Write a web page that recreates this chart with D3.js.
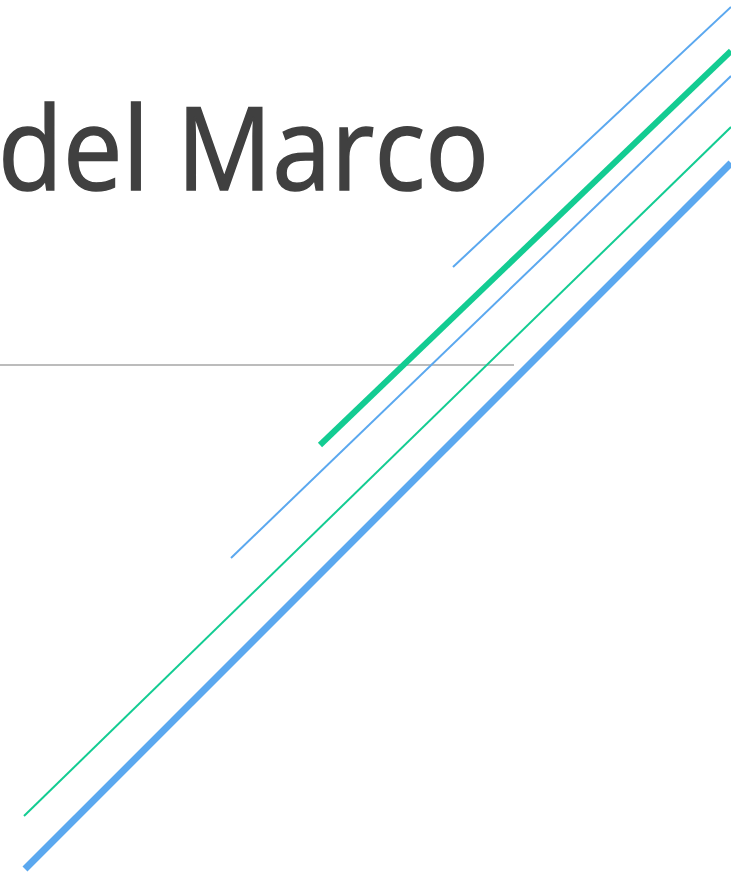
<!DOCTYPE html>
<html>
<head>
<meta charset="utf-8">
<script src="https://cdn.jsdelivr.net/npm/d3@7"></script>
<style>
  html, body { margin: 0; padding: 0; background: white; overflow: hidden; }
</style>
</head>
<body>
<div class="chart"></div>
<script>
// decorative strokes: start / end points in page units, colour key, weight key
var lineNames = ['blue1', 'green1', 'blue2', 'green2', 'blue3'];
var x1s = [453, 320, 231, 24, 25];
var y1s = [267, 445, 558, 816, 869];
var x2s = [731, 731, 731, 731, 731];
var y2s = [7, 51, 76, 127, 163];
var colorKeys = ['blue', 'green', 'blue', 'green', 'blue'];
var weights = [2, 6, 2, 2, 7];

var titleText = 'del Marco';
var ruleLine = [0, 514];   // x extent of the grey rule
var ruleY = 365;

const width = 731, height = 876;

const x = d3.scaleLinear().domain([0, 731]).range([0, width]);
const y = d3.scaleLinear().domain([0, 876]).range([0, height]);
const color = d3.scaleOrdinal().domain(['blue', 'green']).range(['#5ba8ef', '#13cc92']);

const lines = lineNames.map((n, i) => ({
  name: n, x1: x1s[i], y1: y1s[i], x2: x2s[i], y2: y2s[i], c: colorKeys[i], w: weights[i]
}));

const svg = d3.select('.chart')
  .append('svg')
    .attr('width', width)
    .attr('height', height)
    .style('background', 'white');

// title is cut at the left edge in the original slide too
svg.append('text')
  .attr('x', 489)
  .attr('y', 190)
  .attr('text-anchor', 'end')
  .attr('textLength', 491)
  .attr('lengthAdjust', 'spacingAndGlyphs')
  .style('font-family', 'Open Sans, Lato, sans-serif')
  .style('font-size', '115px')
  .style('fill', '#404040')
  .style('stroke', '#404040')
  .style('stroke-width', 1.6)
  .text(titleText);

svg.append('line')
  .attr('x1', x(ruleLine[0]))
  .attr('x2', x(ruleLine[1]))
  .attr('y1', y(ruleY))
  .attr('y2', y(ruleY))
  .attr('stroke', '#a6a6a6')
  .attr('stroke-width', 1.5);

svg.selectAll('line.deco')
  .data(lines)
  .enter()
  .append('line')
    .attr('class', 'deco')
    .attr('x1', d => x(d.x1))
    .attr('y1', d => y(d.y1))
    .attr('x2', d => x(d.x2))
    .attr('y2', d => y(d.y2))
    .attr('stroke', d => color(d.c))
    .attr('stroke-width', d => d.w);
</script>
</body>
</html>
